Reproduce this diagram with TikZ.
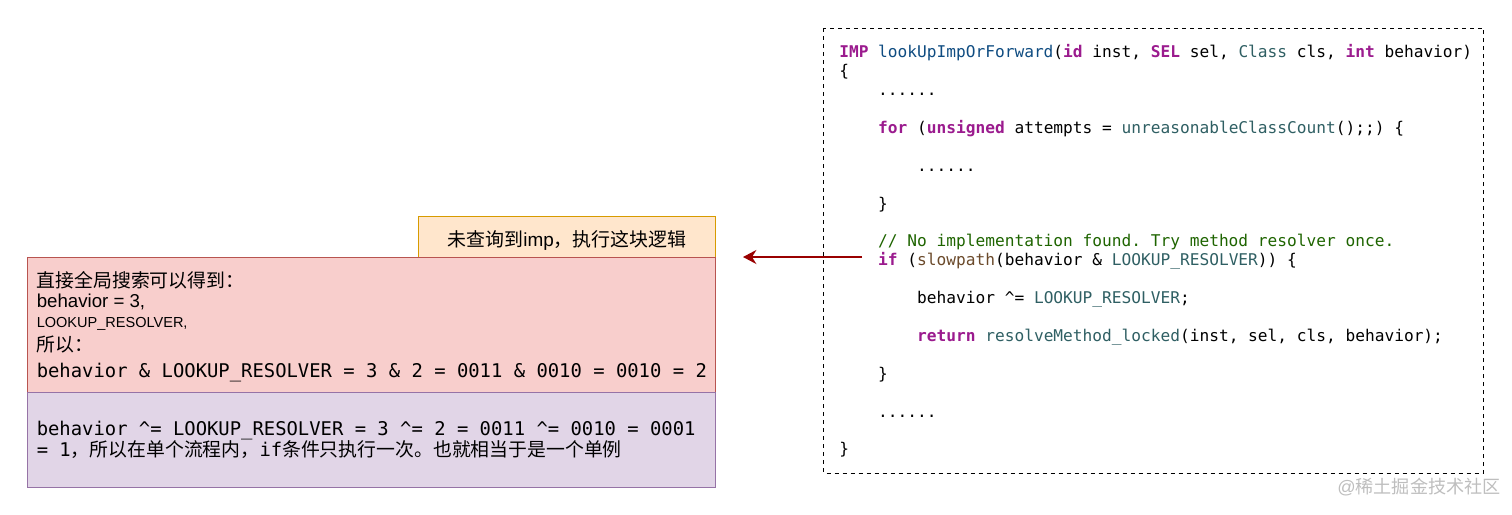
\documentclass[tikz,border=0pt]{standalone}
\usepackage{fontspec}
\setmainfont{Liberation Sans}
\setmonofont{DejaVu Sans Mono}
\newfontfamily\cjk{Noto Sans CJK SC}
\usetikzlibrary{arrows.meta}
\definecolor{kwcolor}{HTML}{9B1B8E}
\definecolor{fncolor}{HTML}{0F4C81}
\definecolor{typecolor}{HTML}{2F5F63}
\definecolor{cmtcolor}{HTML}{1E6400}
\definecolor{slowcolor}{HTML}{6B4A2B}
\newcommand{\kw}[1]{\textcolor{kwcolor}{\textbf{#1}}}
\newcommand{\ty}[1]{\textcolor{typecolor}{#1}}
\newcommand{\indA}{\phantom{0000}}
\newcommand{\indB}{\phantom{00000000}}
\newcommand{\cjksize}{\fontsize{14.15}{17}\selectfont}
\tikzset{
	yellowbox/.style={fill={rgb, 255:red, 255; green, 230; blue, 204},draw={rgb, 255:red, 215; green, 155; blue, 0},line width=0.75pt},
	redbox/.style={fill={rgb, 255:red, 248; green, 206; blue, 204},draw={rgb, 255:red, 184; green, 84; blue, 80},line width=0.75pt},
	purplebox/.style={fill={rgb, 255:red, 225; green, 213; blue, 231},draw={rgb, 255:red, 150; green, 115; blue, 166},line width=0.75pt},
	txt/.style={anchor=base west,inner sep=0pt},
	mono/.style={font=\fontsize{14.15}{17}\selectfont\ttfamily},
}
\begin{document}
\begin{tikzpicture}[x=0.75pt,y=0.75pt,yscale=-1,xscale=1]
	\useasboundingbox (0,0) rectangle (1512,514);

	%Shape: Rectangle
	\draw [yellowbox] (418.5,216) rectangle (715.5,257);
	%Shape: Rectangle
	\draw [redbox] (27,257) rectangle (715.5,392);
	%Shape: Rectangle
	\draw [purplebox] (27,392) rectangle (715.5,487);
	%Shape: Rectangle
	\draw [line width=0.75pt,dash pattern={on 3pt off 3pt}] (823.5,28) rectangle (1483.5,473);

	%Straight Lines
	\coordinate (arrowstart) at (862,257);
	\coordinate (arrowend) at (743,257);
	\draw [color={rgb, 255:red, 153; green, 0; blue, 0},line width=1.5pt,-{Stealth[length=10pt,width=10.5pt]}] (arrowstart) -- (arrowend);

	% Text Node
	\node (title) [anchor=center,inner sep=0pt,font=\fontsize{14.2}{17}\selectfont] at (567,240) {{\cjk 未查询到}imp{\cjk ，执行这块逻辑}};
	% Text Node
	\node (line1) [txt,font=\cjksize] at (36.5,287) {{\cjk 直接全局搜索可以得到：}};
	% Text Node
	\node (line2) [txt,font=\fontsize{14}{16}\selectfont] at (36.5,307) {behavior = 3,};
	% Text Node
	\node (line3) [txt,font=\fontsize{10.9}{13}\selectfont] at (36.5,327) {LOOKUP\_RESOLVER,};
	% Text Node
	\node (line4) [txt,font=\cjksize] at (36.5,351) {{\cjk 所以：}};
	% Text Node
	\node (line5) [txt,mono] at (36.5,377) {behavior \& LOOKUP\_RESOLVER = 3 \& 2 = 0011 \& 0010 = 0010 = 2};
	% Text Node
	\node (line6) [txt,mono] at (36.5,435) {behavior \textasciicircum= LOOKUP\_RESOLVER = 3 \textasciicircum= 2 = 0011 \textasciicircum= 0010 = 0001};
	% Text Node
	\node (line7) [txt,mono] at (36.5,456) {= 1{\cjk ，所以在单个流程内，}if{\cjk 条件只执行一次。也就相当于是一个单例}};

	% Text Node
	\node (code) [anchor=north west,inner sep=0pt,align=left,font=\fontsize{12.13}{14.18}\selectfont\ttfamily] at (839,44.5) {%
		\kw{IMP} \textcolor{fncolor}{lookUpImpOrForward}(\kw{id} inst, \kw{SEL} sel, \ty{Class} cls, \kw{int} behavior)\\
		\{\\
		\indA......\\
		\mbox{}\\
		\indA\kw{for} (\kw{unsigned} attempts = \ty{unreasonableClassCount}();;) \{\\
		\mbox{}\\
		\indB......\\
		\mbox{}\\
		\indA\}\\
		\mbox{}\\
		\indA\textcolor{cmtcolor}{// No implementation found. Try method resolver once.}\\
		\indA\kw{if} (\textcolor{slowcolor}{slowpath}(behavior \& \ty{LOOKUP\_RESOLVER})) \{\\
		\mbox{}\\
		\indB behavior \textasciicircum= \ty{LOOKUP\_RESOLVER};\\
		\mbox{}\\
		\indB\kw{return} \ty{resolveMethod\_locked}(inst, sel, cls, behavior);\\
		\mbox{}\\
		\indA\}\\
		\mbox{}\\
		\indA......\\
		\mbox{}\\
		\}};

	% Text Node
	\node (mark) [txt,text={rgb, 255:red, 190; green, 190; blue, 190},font=\fontsize{13.6}{15}\selectfont] at (1337,493) {@{\cjk 稀土掘金技术社区}};

\end{tikzpicture}
\end{document}
